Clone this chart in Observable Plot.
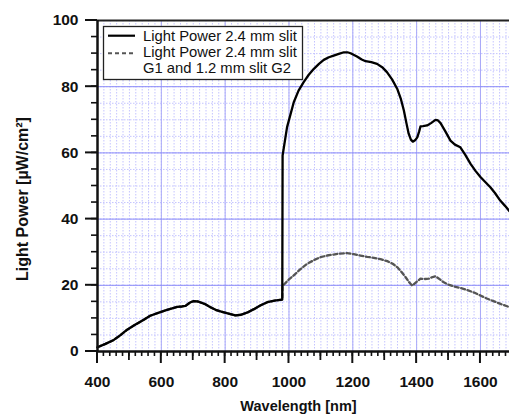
<!DOCTYPE html>
<html><head><meta charset="utf-8">
<script src="https://cdn.jsdelivr.net/npm/d3@7"></script>
<script src="https://cdn.jsdelivr.net/npm/@observablehq/plot@0.6"></script>
<style>
html,body{margin:0;padding:0;background:#fff;overflow:hidden}
#wrap{position:relative;width:509px;height:415px}
#overlay{position:absolute;left:0;top:0;pointer-events:none}
</style></head><body><div id="wrap"></div>
<script>
// shared part (both curves coincide below ~980 nm)
const lowWavelength = [400,425,451,470,493,515,545,565,597,618,650,665,676,690,700,715,735,754,770,785,805,832,850,870,890,910,932,955,979];
const lowPower      = [1.3,2.3,3.5,4.8,6.6,7.9,9.6,10.8,11.9,12.6,13.5,13.6,13.8,14.8,15.2,15.1,14.4,13.4,12.6,12.1,11.6,10.9,11.1,11.8,12.8,13.9,14.9,15.4,15.7];
// solid curve: Light Power 2.4 mm slit
const solidWavelength = [980,994,1015,1030,1046,1062,1078,1094,1109,1125,1140,1156,1172,1183,1193,1213,1228,1240,1258,1276,1292,1307,1323,1339,1350,1360,1368,1375,1382,1388,1395,1402,1408,1412,1420,1433,1445,1459,1467,1475,1490,1506,1520,1537,1552,1569,1585,1600,1615,1631,1646,1662,1677,1691];
const solidPower      = [59.2,67.8,75.3,78.8,81.4,83.6,85.4,86.9,88.1,88.9,89.4,89.9,90.4,90.4,90.1,89.1,88.2,87.7,87.4,86.9,85.9,84.4,82.2,79.4,76.5,72.8,69.0,65.8,64.0,63.4,63.8,64.7,66.5,68.0,68.1,68.3,69.0,70.0,69.8,69.0,66.5,63.7,62.5,61.7,59.5,56.7,54.5,52.7,51.2,49.6,47.8,45.6,44.0,42.4];
// dashed curve: Light Power 2.4 mm slit G1 and 1.2 mm slit G2
const dashedWavelength = [980,1000,1015,1035,1057,1078,1099,1120,1140,1160,1182,1203,1224,1245,1266,1287,1308,1325,1339,1352,1365,1376,1386,1398,1412,1425,1438,1450,1459,1470,1485,1500,1516,1537,1558,1580,1600,1620,1641,1665,1691];
const dashedPower      = [19.8,21.8,23.0,24.8,26.5,27.6,28.5,29.0,29.3,29.6,29.7,29.4,29.0,28.6,28.3,27.9,27.3,26.5,25.5,24.1,22.5,21.0,19.9,20.9,22.0,21.9,22.0,22.5,22.7,22.0,20.9,20.2,19.7,19.2,18.6,17.8,16.9,16.0,15.2,14.3,13.4];

const seriesNames = ["Light Power 2.4 mm slit", "Light Power 2.4 mm slit", "G1 and 1.2 mm slit G2"];
const xMajorTicks = [400,600,800,1000,1200,1400,1600];
const xMediumTicks = [500,700,900,1100,1300,1500];
const xMinorTicks = d3.range(400,1700,20);
const yMajorTicks = [0,20,40,60,80,100];
const yMinorTicks = d3.range(0,101,5);
const yGridMajor = [20,40,60,80];
const xLabel = "Wavelength [nm]";
const yLabel = "Light Power [µW/cm²]";

const lowRows = lowWavelength.map((w,i)=>({wl:w,p:lowPower[i]}));
const solidRows = lowRows.concat(solidWavelength.map((w,i)=>({wl:w,p:solidPower[i]})));
const dashedRows = lowRows.concat(dashedWavelength.map((w,i)=>({wl:w,p:dashedPower[i]})));

const W = 509, H = 415;
const xDomain = [400, 1691], yDomain = [0, 100];
const font = "'Liberation Sans', Arial, sans-serif";
const ink = "#111";
const plot = Plot.plot({
  width: W, height: H,
  marginLeft: 97, marginRight: 0, marginTop: 20, marginBottom: 64,
  style: {fontFamily: font},
  x: {domain: xDomain},
  y: {domain: yDomain},
  marks: [
    Plot.gridX(xMinorTicks, {stroke: "#c4c4ff", strokeOpacity: 1, strokeDasharray: "1.5,1.5"}),
    Plot.gridY(yMinorTicks, {stroke: "#c4c4ff", strokeOpacity: 1, strokeDasharray: "1.5,1.5"}),
    Plot.gridX(xMajorTicks, {stroke: "#a8a8f8", strokeOpacity: 1}),
    Plot.gridY(yGridMajor, {stroke: "#8c8cf8", strokeOpacity: 1}),
    Plot.line(dashedRows, {x: "wl", y: "p", stroke: "#555", strokeWidth: 2.3, strokeDasharray: "4,2.6"}),
    Plot.line(solidRows, {x: "wl", y: "p", stroke: "#000", strokeWidth: 2.3}),
    Plot.ruleY([100], {stroke: "#222", strokeWidth: 2}),
    Plot.ruleX([400], {stroke: ink, strokeWidth: 2.5}),
    Plot.ruleY([0], {stroke: ink, strokeWidth: 2.5}),
    Plot.axisX(xMajorTicks, {tickSize: 0, tickPadding: 24, fill: ink, fontSize: 15.5, fontWeight: "bold", tickFormat: d => String(d), label: null}),
    Plot.axisY(yMajorTicks, {tickSize: 0, tickPadding: 19, fill: ink, fontSize: 15.5, fontWeight: "bold", tickFormat: d => String(d), label: null}),
    Plot.text([xLabel], {text: d => d, frameAnchor: "bottom", textAnchor: "middle", lineAnchor: "middle", dx: -5, dy: 54.4, fontSize: 14.5, fontWeight: "bold", fill: ink}),
    Plot.text([yLabel], {text: d => d, frameAnchor: "left", textAnchor: "middle", lineAnchor: "middle", rotate: -90, dx: -74.5, dy: 13, fontSize: 16, fontWeight: "bold", fill: ink})
  ]
});
const wrap = document.getElementById("wrap");
wrap.appendChild(plot);

// overlay: outward ticks (positioned through Plot's own scales) and the legend
const sx = plot.scale("x"), sy = plot.scale("y");
const x0 = sx.apply(xDomain[0]), y0 = sy.apply(yDomain[0]);
const ov = d3.create("svg").attr("id","overlay").attr("width",W).attr("height",H)
  .style("font-family", font);
const tickGroup = (ticks, len, sw, axis) => {
  const g = ov.append("g").attr("stroke", ink).attr("stroke-width", sw);
  ticks.forEach(t => {
    if (axis === "x") {
      const px = sx.apply(t);
      g.append("line").attr("x1", px).attr("x2", px).attr("y1", y0).attr("y2", y0 + len);
    } else {
      const py = sy.apply(t);
      g.append("line").attr("x1", x0).attr("x2", x0 - len).attr("y1", py).attr("y2", py);
    }
  });
};
tickGroup(xMinorTicks, 5, 1.6, "x");
tickGroup(xMediumTicks, 9, 1.8, "x");
tickGroup(xMajorTicks, 12, 2, "x");
tickGroup(yMinorTicks, 6, 1.6, "y");
tickGroup(yMajorTicks, 12, 2, "y");

ov.append("rect").attr("x",103.5).attr("y",26.5).attr("width",199).attr("height",53)
  .attr("fill","#fff").attr("stroke","#222").attr("stroke-width",1.3);
ov.append("line").attr("x1",108).attr("x2",135).attr("y1",35.7).attr("y2",35.7)
  .attr("stroke","#000").attr("stroke-width",2.2);
ov.append("line").attr("x1",108).attr("x2",135).attr("y1",53.3).attr("y2",53.3)
  .attr("stroke","#555").attr("stroke-width",2).attr("stroke-dasharray","4,3");
[[40.7,seriesNames[0]],[57.3,seriesNames[1]],[73.3,seriesNames[2]]].forEach(([y,t])=>{
  ov.append("text").attr("x",143).attr("y",y).attr("font-size",14.8).attr("fill",ink).text(t);
});
wrap.appendChild(ov.node());
</script></body></html>
